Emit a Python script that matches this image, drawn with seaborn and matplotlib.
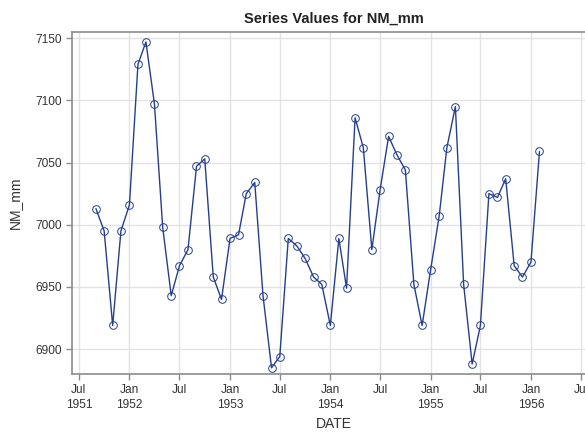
import matplotlib
matplotlib.use("Agg")
import matplotlib.pyplot as plt
import pandas as pd
import seaborn as sns

# monthly series, Sep 1951 .. Feb 1956
start_month = "1951-09-01"
nm_mm = [
    7013, 6995, 6919, 6995, 7016, 7129, 7147, 7097, 6998, 6943, 6967, 6980,
    7047, 7053, 6958, 6940, 6989, 6992, 7025, 7034, 6943, 6885, 6894, 6989,
    6983, 6973, 6958, 6952, 6919, 6989, 6949, 7086, 7062, 6980, 7028, 7071,
    7056, 7044, 6952, 6919, 6964, 7007, 7062, 7095, 6952, 6888, 6919, 7025,
    7022, 7037, 6967, 6958, 6970, 7059,
]
y_ticks = [6900, 6950, 7000, 7050, 7100, 7150]
tick_months = pd.date_range("1951-07-01", "1956-07-01", freq="6MS")

df = pd.DataFrame({
    "DATE": pd.date_range(start_month, periods=len(nm_mm), freq="MS"),
    "NM_mm": nm_mm,
})

sns.set_style("white")
plt.rcParams["font.family"] = ["Liberation Sans", "DejaVu Sans"]

line_col = "#253f8e"
frame_col = "#8c8c8c"
grid_col = "#e3e3e3"

fig = plt.figure(figsize=(5.85, 4.34), dpi=100)
ax = fig.add_axes([72 / 585, 60 / 434, 523 / 585, 342 / 434])

sns.lineplot(data=df, x="DATE", y="NM_mm", ax=ax, color=line_col, lw=1.0,
             marker="o", markersize=5.5, markerfacecolor="none",
             markeredgecolor=line_col, markeredgewidth=0.7)

ax.set_xlim(pd.Timestamp("1951-06-06"), pd.Timestamp("1956-08-21"))
ax.set_ylim(6880, 7155)
ax.set_yticks(y_ticks)
ax.set_xticks(tick_months)
labels = []
for i, d in enumerate(tick_months):
    mon = d.strftime("%b")
    if i == 0 or d.month == 1:
        labels.append(f"{mon}\n{d.year}")
    else:
        labels.append(mon)
ax.set_xticklabels(labels, linespacing=1.35)

ax.grid(True, color=grid_col, lw=1.0)
ax.set_axisbelow(True)
for s in ax.spines.values():
    s.set_color(frame_col)
    s.set_linewidth(1.2)
ax.tick_params(axis="both", direction="out", length=4.3, width=1, color=frame_col,
               labelsize=8.6, labelcolor="#333333", pad=3)
ax.tick_params(axis="both", which="both", bottom=True, left=True)

ax.set_title("Series Values for NM_mm", fontsize=10.5, fontweight="bold",
             color="#222222", pad=6.5)
ax.set_xlabel("DATE", fontsize=10, color="#333333", labelpad=4)
ax.set_ylabel("NM_mm", fontsize=10, color="#333333", labelpad=10)

fig.savefig("out.png", dpi=100)
